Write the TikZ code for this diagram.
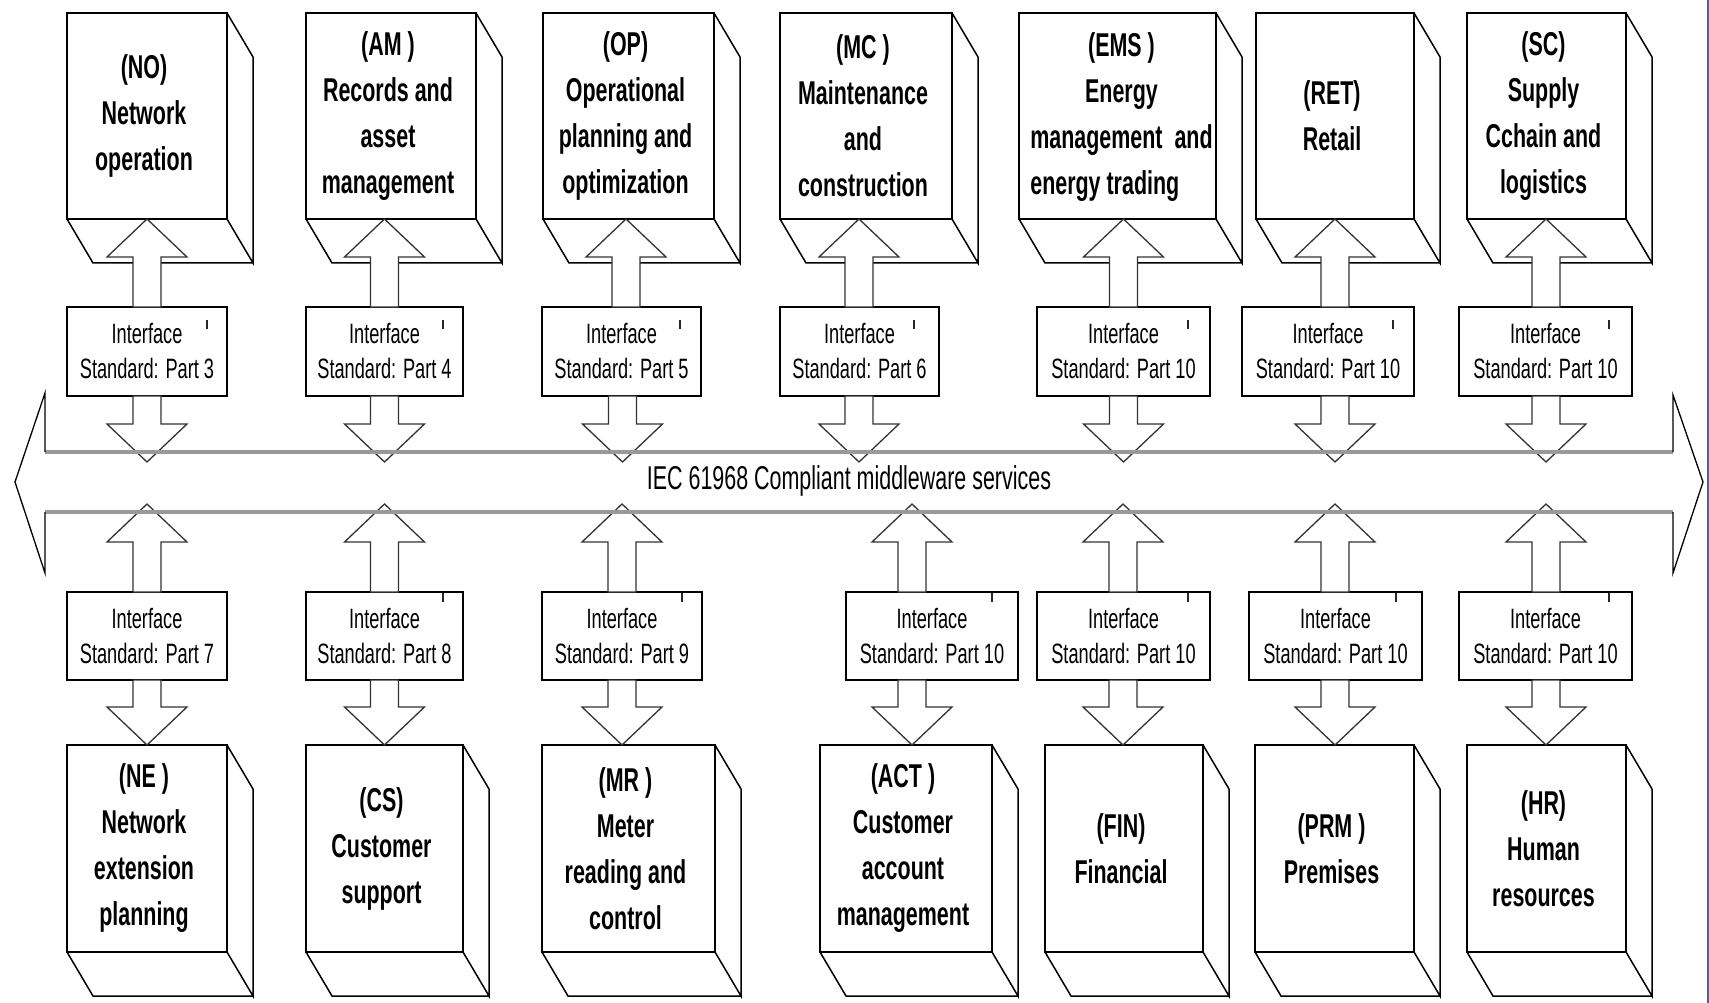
\documentclass[tikz,border=0pt]{standalone}
\usepackage{fontspec}
\setmainfont{Liberation Sans}[FakeStretch=0.65]
\usetikzlibrary{calc}

\definecolor{edgeblue}{RGB}{80,100,140}

% fonts of the three kinds of label
\newcommand\boxfont{\fontsize{33}{46}\selectfont\bfseries}
\newcommand\ifacefont{\fontsize{28}{35}\selectfont}
\newcommand\busfont{\fontsize{33}{40}\selectfont}

% a business-function block: front face as a node, plus right and bottom faces
% [#1] label shift, #2 name, #3 left, #4 right, #5 top, #6 bottom, #7 label
\newcommand\unitbox[7][-3pt]{%
  \node[unitface, minimum width={(#4-#3)*1pt}, minimum height={(#6-#5)*1pt}]
    (#2) at ({(#3+#4)/2},{(#5+#6)/2}) {};
  \node[unittext] (#2-text) at ([xshift=#1]#2.center) {#7};
  \draw[sideface] (#2.north east) -- ++(26,44) -- ($(#2.south east)+(26,44)$) -- (#2.south east)
                  (#2.south west) -- ++(26,44) -- ($(#2.south east)+(26,44)$);
}

% an interface-standard box: #1 name, #2 left, #3 right, #4 top, #5 bottom, #6 part
\newcommand\ifacebox[6]{%
  \node[iface, minimum width={(#3-#2)*1pt}, minimum height={(#5-#4)*1pt}]
    (#1) at ({(#2+#3)/2},{(#4+#5)/2}) {Interface\\Standard: Part #6};
}

% small tick near the top right corner of an interface box
\newcommand\ifacetick[3]{%
  \draw[ticklook] ($(#1.north east)+(#2,#3)$) -- ++(0,9);
}

% hollow block arrows along an axis; #1 axis, #2 tail point, #3 tip point
\newcommand\arrowup[3]{%
  \draw[blockarrow] let \p1=(#1), \p2=(#2), \p3=(#3) in
    (\x1,\y3) -- (\x1+40pt,\y3-38pt) -- (\x1+14pt,\y3-38pt) -- (\x1+14pt,\y2)
    -- (\x1-14pt,\y2) -- (\x1-14pt,\y3-38pt) -- (\x1-40pt,\y3-38pt) -- cycle;
}
\newcommand\arrowdown[3]{%
  \draw[blockarrow] let \p1=(#1), \p2=(#2), \p3=(#3) in
    (\x1,\y3) -- (\x1+40pt,\y3+38pt) -- (\x1+14pt,\y3+38pt) -- (\x1+14pt,\y2)
    -- (\x1-14pt,\y2) -- (\x1-14pt,\y3+38pt) -- (\x1-40pt,\y3+38pt) -- cycle;
}

\begin{document}
\begin{tikzpicture}[x=1pt,y=-1pt,
  unitface/.style={draw, line width=2.2pt, inner sep=0pt, outer sep=0pt},
  unittext/.style={inner sep=0pt, align=center, font=\boxfont},
  sideface/.style={line width=1.5pt, line join=miter},
  iface/.style={draw, line width=2pt, inner sep=0pt, outer sep=0pt, align=center, font=\ifacefont},
  blockarrow/.style={draw=black!80, fill=white, line width=1.3pt, line join=miter},
  busline/.style={draw=black!40, line width=4pt},
  bushead/.style={draw=black, line width=1.3pt, line join=miter},
  ticklook/.style={line width=2.8pt, black!85}]

\fill[white] (0,0) rectangle (1709,1003);
\useasboundingbox (0,0) rectangle (1709,1003);

% upper row of business functions
\unitbox{NO}{67}{227}{13}{219}{(NO)\\Network\\operation}
\unitbox{AM}{306}{476}{13}{219}{(AM )\\Records and\\asset\\management}
\unitbox{OP}{543}{714}{13}{219}{(OP)\\Operational\\planning and\\optimization}
\unitbox{MC}{780}{952}{13}{219}{(MC )\\Maintenance\\and\\construction}
\unitbox[4pt]{EMS}{1019}{1216}{13}{219}{\begin{tabular}{@{}l@{}}\multicolumn{1}{@{}c@{}}{(EMS )}\\\multicolumn{1}{@{}c@{}}{Energy}\\management\ \ and\\energy trading\end{tabular}}
\unitbox{RET}{1256}{1414}{13}{219}{(RET)\\Retail}
\unitbox{SC}{1467}{1626}{13}{219}{(SC)\\Supply\\Cchain and\\logistics}

% lower row of business functions
\unitbox{NE}{67}{227}{745}{952}{(NE )\\Network\\extension\\planning}
\unitbox{CS}{306}{463}{745}{952}{(CS)\\Customer\\support}
\unitbox{MR}{542}{715}{745}{952}{(MR )\\Meter\\reading and\\control}
\unitbox{ACT}{820}{992}{745}{952}{(ACT )\\Customer\\account\\management}
\unitbox{FIN}{1045}{1203}{745}{952}{(FIN)\\Financial}
\unitbox{PRM}{1255}{1414}{745}{952}{(PRM )\\Premises}
\unitbox{HR}{1467}{1626}{745}{952}{(HR)\\Human\\resources}

% interface standards above the bus
\ifacebox{PA}{67}{227}{307}{396}{3}
\ifacebox{PB}{306}{463}{307}{396}{4}
\ifacebox{PC}{542}{701}{307}{396}{5}
\ifacebox{PD}{780}{939}{307}{396}{6}
\ifacebox{PE}{1037}{1210}{307}{396}{10}
\ifacebox{PF}{1242}{1414}{307}{396}{10}
\ifacebox{PG}{1459}{1632}{307}{396}{10}

% interface standards below the bus
\ifacebox{QA}{67}{227}{592}{680}{7}
\ifacebox{QB}{306}{463}{592}{680}{8}
\ifacebox{QC}{542}{702}{592}{680}{9}
\ifacebox{QD}{846}{1018}{592}{680}{10}
\ifacebox{QE}{1037}{1210}{592}{680}{10}
\ifacebox{QF}{1249}{1422}{592}{680}{10}
\ifacebox{QG}{1459}{1632}{592}{680}{10}

\ifacetick{PA}{-20}{13}
\ifacetick{PB}{-20}{13}
\ifacetick{PC}{-21}{13}
\ifacetick{PD}{-25}{13}
\ifacetick{PE}{-22}{13}
\ifacetick{PF}{-21}{13}
\ifacetick{PG}{-23}{13}
\ifacetick{QB}{-20}{1}
\ifacetick{QC}{-20}{1}
\ifacetick{QD}{-26}{1}
\ifacetick{QE}{-22}{1}
\ifacetick{QF}{-26}{1}
\ifacetick{QG}{-23}{1}

% arrow axes and the points where arrows meet the bus
\coordinate (axA) at (147,0);
\coordinate (axB) at (384.5,0);
\coordinate (axCu) at (626,0);
\coordinate (axCd) at (622.5,0);
\coordinate (axD) at (859,0);
\coordinate (axE) at (1123.5,0);
\coordinate (axF) at (1335,0);
\coordinate (axG) at (1546,0);
\coordinate (axLA) at (147,0);
\coordinate (axLB) at (384.5,0);
\coordinate (axLC) at (622,0);
\coordinate (axLD) at (912,0);
\coordinate (axLE) at (1123,0);
\coordinate (axLF) at (1335,0);
\coordinate (axLG) at (1546,0);
\coordinate (busInTop) at (0,462);
\coordinate (busInBot) at (0,504);

% upper functions <-> interfaces <-> bus
\arrowup{axA}{PA.north}{NO.south}
\arrowup{axB}{PB.north}{AM.south}
\arrowup{axCu}{PC.north}{OP.south}
\arrowup{axD}{PD.north}{MC.south}
\arrowup{axE}{PE.north}{EMS.south}
\arrowup{axF}{PF.north}{RET.south}
\arrowup{axG}{PG.north}{SC.south}
\arrowdown{axA}{PA.south}{busInTop}
\arrowdown{axB}{PB.south}{busInTop}
\arrowdown{axCd}{PC.south}{busInTop}
\arrowdown{axD}{PD.south}{busInTop}
\arrowdown{axE}{PE.south}{busInTop}
\arrowdown{axF}{PF.south}{busInTop}
\arrowdown{axG}{PG.south}{busInTop}

% bus <-> interfaces <-> lower functions
\arrowup{axLA}{QA.north}{busInBot}
\arrowup{axLB}{QB.north}{busInBot}
\arrowup{axLC}{QC.north}{busInBot}
\arrowup{axLD}{QD.north}{busInBot}
\arrowup{axLE}{QE.north}{busInBot}
\arrowup{axLF}{QF.north}{busInBot}
\arrowup{axLG}{QG.north}{busInBot}
\arrowdown{axLA}{QA.south}{NE.north}
\arrowdown{axLB}{QB.south}{CS.north}
\arrowdown{axLC}{QC.south}{MR.north}
\arrowdown{axLD}{QD.south}{ACT.north}
\arrowdown{axLE}{QE.south}{FIN.north}
\arrowdown{axLF}{QF.south}{PRM.north}
\arrowdown{axLG}{QG.south}{HR.north}

% the middleware bus: double-headed hollow arrow
\coordinate (busL) at (45,482);
\coordinate (busR) at (1673,482);
\draw[busline] (45,452) -- (1673,452);
\draw[busline] (45,512) -- (1673,512);
\draw[bushead] (45,452) -- (45,393) -- (15,482) -- (45,573) -- (45,512);
\draw[bushead] (1673,452) -- (1673,395) -- (1703,482) -- (1673,573) -- (1673,512);
\node[font=\busfont, inner sep=0pt] (bus) at (849,481) {IEC 61968 Compliant middleware services};

% frame edge on the right
\draw[edgeblue, line width=2.5pt] (1707.75,0) -- (1707.75,1003);
\end{tikzpicture}
\end{document}
